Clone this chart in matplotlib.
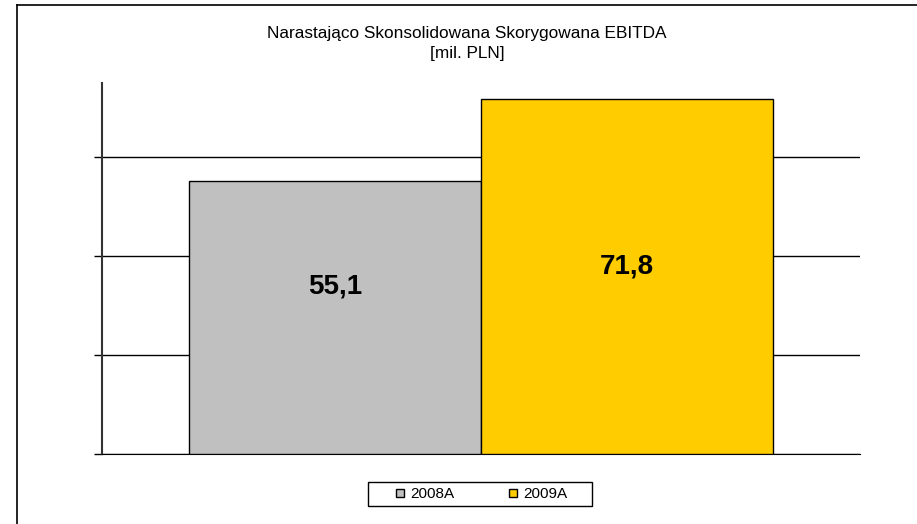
import matplotlib
matplotlib.use("Agg")
import matplotlib.pyplot as plt
from matplotlib.lines import Line2D
from matplotlib.patches import Rectangle

plt.rcParams['font.family'] = ['Liberation Sans', 'DejaVu Sans']

categories = ["2008A", "2009A"]
values = [55.1, 71.8]
labels = ["55,1", "71,8"]
colors = ["#C0C0C0", "#FFCC00"]
title = "Narastająco Skonsolidowana Skorygowana EBITDA\n[mil. PLN]"

W, H = 917, 524
fig = plt.figure(figsize=(W/100, H/100), dpi=100)
ax = fig.add_axes([102/W, 1-454/H, (860-102)/W, (454-83)/H])

x = list(range(len(values)))
ax.set_axisbelow(True)
ax.yaxis.grid(True, color="black", linewidth=1)
ax.bar(x, values, width=1.0, color=colors, edgecolor="black", linewidth=1, zorder=3)
ax.set_xlim(-0.798, 1.798)
ax.set_ylim(0, 75)
ax.set_yticks([0, 20, 40, 60])
ax.set_yticklabels([])
ax.set_xticks([])
ax.tick_params(axis='y', length=6, width=1, color="black", direction="out")
for s in ["top", "right"]:
    ax.spines[s].set_visible(False)
ax.spines["left"].set_color("#333333")
ax.spines["left"].set_linewidth(1.5)
ax.spines["bottom"].set_color("black")

label_y = [286, 266]
for xi, lab, py in zip(x, labels, label_y):
    ax.text(xi, 1 - (py - 83) / (454 - 83), lab, transform=ax.get_xaxis_transform(),
            ha="center", va="center", fontsize=20, fontweight="bold", zorder=5)

fig.text(467/W, 1-43.5/H, title, ha="center", va="center", fontsize=12.4, linespacing=1.45)

handles = [Line2D([], [], marker="s", linestyle="none", markersize=6, markerfacecolor=c,
                  markeredgecolor="black", markeredgewidth=1) for c in colors]
leg = fig.legend(handles, categories, loc="center", bbox_to_anchor=(480/W, 1-494/H),
                 ncol=2, frameon=False, fontsize=11,
                 columnspacing=3.3, handletextpad=0.2, handlelength=1.0, borderpad=0.2)

# legend box with slight shadow
fig.add_artist(Rectangle((369/W, 1-507/H), 224/W, 24/H, transform=fig.transFigure,
                         facecolor="#A0A0A0", edgecolor="none", zorder=1))
fig.add_artist(Rectangle((368/W, 1-506/H), 224/W, 24/H, transform=fig.transFigure,
                         facecolor="white", edgecolor="black", linewidth=1, zorder=1.5))
leg.set_zorder(3)

# figure border (top and left visible)
fig.add_artist(Line2D([17/W, 17/W], [0, 1-5/H], color="black", linewidth=1.2, transform=fig.transFigure))
fig.add_artist(Line2D([17/W, 1], [1-5/H, 1-5/H], color="black", linewidth=1.2, transform=fig.transFigure))

fig.savefig("out.png", dpi=100)
